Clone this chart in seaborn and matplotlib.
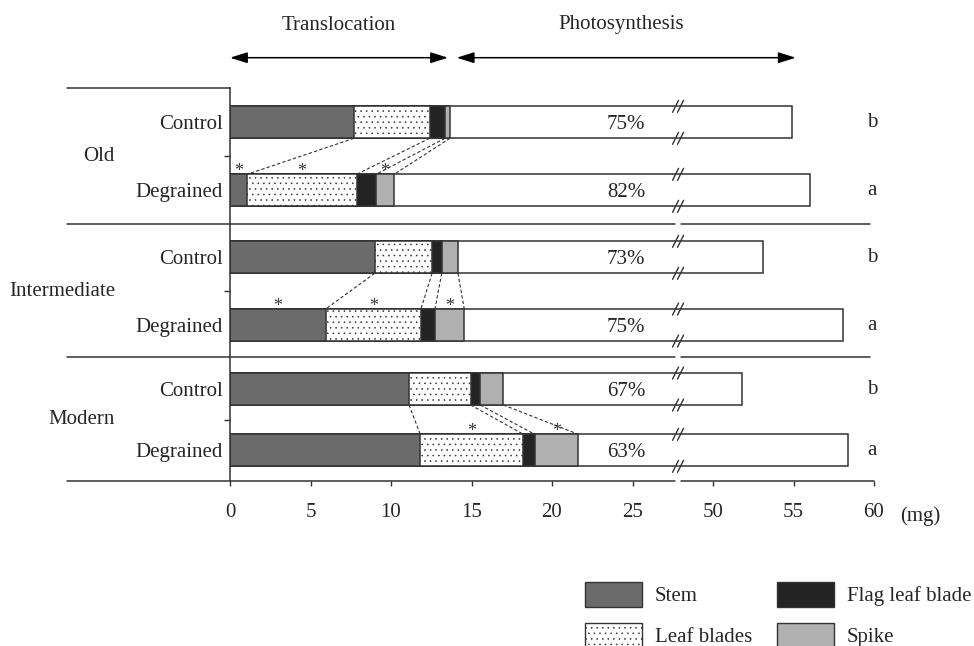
import numpy as np
import pandas as pd
import matplotlib
matplotlib.use("Agg")
import matplotlib.pyplot as plt
import seaborn as sns
from matplotlib.patches import Patch
from matplotlib.transforms import blended_transform_factory

# ---------------- data ----------------
groups = ["Old", "Intermediate", "Modern"]
treatments = ["Control", "Degrained"]
# one entry per bar: Old-Control, Old-Degrained, Int-Control, Int-Degrained, Mod-Control, Mod-Degrained
stem = [7.70, 1.07, 8.99, 5.94, 11.12, 11.82]
leaf_blades = [4.70, 6.80, 3.56, 5.92, 3.83, 6.40]
flag_leaf_blade = [0.95, 1.20, 0.60, 0.87, 0.60, 0.70]
spike = [0.31, 1.13, 1.01, 1.82, 1.43, 2.72]
total = [54.9, 56.0, 53.1, 58.1, 51.8, 58.4]
photo_pct = ["75%", "82%", "73%", "75%", "67%", "63%"]
letters = ["b", "a", "b", "a", "b", "a"]
# significance (*) for degrained vs control, per group (Old, Intermediate, Modern)
sig_stem = [True, True, False]
sig_leaf = [True, True, True]
sig_flag = [False, False, False]
sig_spike = [True, True, True]
tick_values = [0, 5, 10, 15, 20, 25, 50, 55, 60]

# ---------------- layout / style ----------------
W, H = 974, 646
AX_L, AX_R, AX_T, AX_B = 230, 874, 88, 481       # pixel box of axes
ROW_Y = [122.3, 190.3, 257.3, 325.0, 389.0, 450.3]  # row centres (y axis in pixel units)
BAR_H = 32
BREAK_SHIFT = 20      # axis is broken: values above the break are drawn 20 mg to the left
BREAK_X = 27.83
PCT_X = 24.6
PX = 40.0 / (AX_R - AX_L)  # data units per pixel along x

STEM_C = "#6b6b6b"
FLAG_C = "#242424"
SPIKE_C = "#b0b0b0"
EDGE = "#333333"
FS = 15

sns.set_style("white")
plt.rcParams["font.family"] = ["Liberation Serif", "DejaVu Serif"]
plt.rcParams["hatch.color"] = "#333333"
plt.rcParams["hatch.linewidth"] = 0.4

fig = plt.figure(figsize=(W / 100, H / 100), dpi=100)
ax = fig.add_axes([AX_L / W, 1 - AX_B / H, (AX_R - AX_L) / W, (AX_B - AX_T) / H])

stem_a = np.array(stem)
c1 = stem_a
c2 = c1 + np.array(leaf_blades)
c3 = c2 + np.array(flag_leaf_blade)
c4 = c3 + np.array(spike)
tot_plot = np.array(total) - BREAK_SHIFT

native = np.min(np.diff(sorted(ROW_Y)))
layers = [(tot_plot, "white", None), (c4, SPIKE_C, None), (c3, FLAG_C, None),
          (c2, "white", "..."), (c1, STEM_C, None)]
for vals, col, hatch in layers:
    kws = dict(edgecolor=EDGE, linewidth=1.1)
    if hatch:
        kws["hatch"] = hatch
    sns.barplot(x=vals, y=ROW_Y, orient="h", native_scale=True, width=BAR_H / native,
                color=col, saturation=1, errorbar=None, ax=ax, **kws)

ax.set_xlim(0, 40)
ax.set_ylim(AX_B, AX_T)
ax.set_xlabel("")
ax.set_ylabel("")

# dashed connectors between control and degrained bars
bounds = [c1, c2, c3, c4]
for g in range(3):
    ci, di = 2 * g, 2 * g + 1
    for b in bounds:
        ax.plot([b[ci], b[di]], [ROW_Y[ci] + BAR_H / 2, ROW_Y[di] - BAR_H / 2],
                ls=(0, (3, 2)), lw=0.8, color=EDGE, zorder=3)

# asterisks
starts = [np.zeros(6), c1, c2, c3]
ends = [c1, c2, c3, c4]
sigs = [sig_stem, sig_leaf, sig_flag, sig_spike]
for g in range(3):
    di = 2 * g + 1
    for k in range(4):
        if sigs[k][g]:
            xm = (starts[k][di] + ends[k][di]) / 2
            ax.text(xm, ROW_Y[di] - BAR_H / 2 + 2, "*", ha="center", va="baseline",
                    fontsize=13, color="#333333")

# percent labels & letters
for i in range(6):
    ax.text(PCT_X, ROW_Y[i] + 2, photo_pct[i], ha="center", va="center", fontsize=FS)
    ax.text(39.9, ROW_Y[i], letters[i], ha="center", va="center", fontsize=FS, clip_on=False)

# break marks on bars
for i in range(6):
    for yy in (ROW_Y[i] - BAR_H / 2, ROW_Y[i] + BAR_H / 2):
        for off in (-2.5, 2.5):
            ax.plot([BREAK_X + (off - 3) * PX, BREAK_X + (off + 3) * PX], [yy + 6, yy - 6],
                    color=EDGE, lw=1.0, zorder=5, clip_on=False)

# horizontal separators
trans = blended_transform_factory(ax.transAxes, ax.transData)
xl = (67 - AX_L) / (AX_R - AX_L)
xb = (678 - AX_L) / (AX_R - AX_L)
gap = 3 / (AX_R - AX_L)
sep_y = [(ROW_Y[1] + ROW_Y[2]) / 2, (ROW_Y[3] + ROW_Y[4]) / 2]
for yy in sep_y:
    ax.plot([xl, xb - gap], [yy, yy], transform=trans, color=EDGE, lw=1.1, clip_on=False)
    ax.plot([xb + gap, (870 - AX_L) / (AX_R - AX_L)], [yy, yy], transform=trans, color=EDGE,
            lw=1.1, clip_on=False)
ax.plot([xl, 0], [AX_T, AX_T], transform=trans, color=EDGE, lw=1.1, clip_on=False)
ax.plot([xl, xb - gap], [AX_B, AX_B], transform=trans, color=EDGE, lw=1.1, clip_on=False)
ax.plot([xb + gap, 1], [AX_B, AX_B], transform=trans, color=EDGE, lw=1.1, clip_on=False)

# spines & ticks
for s in ["top", "right", "bottom"]:
    ax.spines[s].set_visible(False)
ax.spines["left"].set_color(EDGE)
ax.spines["left"].set_linewidth(1.1)

ax.set_xticks([0, 5, 10, 15, 20, 25, 30, 35, 40])
ax.set_xticklabels([str(v) for v in tick_values], fontsize=FS)
ax.tick_params(axis="x", direction="out", length=3.6, width=1, color=EDGE, pad=12.5, bottom=True)
ax.text(42.9, AX_B + 35, "(mg)", ha="center", va="center", fontsize=FS, clip_on=False)

ax.set_yticks(ROW_Y)
ax.set_yticklabels(treatments * 3, fontsize=FS)
ax.tick_params(axis="y", which="major", length=0, pad=5)
grp_y = [(ROW_Y[2 * g] + ROW_Y[2 * g + 1]) / 2 for g in range(3)]
ax.set_yticks(grp_y, minor=True)
ax.tick_params(axis="y", which="minor", length=4, width=1, color=EDGE, direction="out", left=True)
for g, name in enumerate(groups):
    ax.text((115 - AX_L) / (AX_R - AX_L), grp_y[g], name, transform=trans, ha="right",
            va="center", fontsize=FS)

# top arrows
ar = dict(arrowstyle="<|-|>,head_length=0.7,head_width=0.22", color="black", lw=1.1,
          shrinkA=0, shrinkB=0)
ax.annotate("", xy=(0, 57.7), xytext=((448 - AX_L) * PX, 57.7), arrowprops=ar,
            annotation_clip=False, fontsize=FS)
ax.annotate("", xy=((456.7 - AX_L) * PX, 57.7), xytext=((795.7 - AX_L) * PX, 57.7),
            arrowprops=ar, annotation_clip=False, fontsize=FS)
ax.text((339 - AX_L) * PX, 25, "Translocation", ha="center", va="center", fontsize=FS,
        clip_on=False)
ax.text((620.7 - AX_L) * PX, 25, "Photosynthesis", ha="center", va="center", fontsize=FS,
        clip_on=False)

# legend
handles = [Patch(facecolor=STEM_C, edgecolor=EDGE, label="Stem"),
           Patch(facecolor="white", edgecolor=EDGE, hatch="...", label="Leaf blades"),
           Patch(facecolor=FLAG_C, edgecolor=EDGE, label="Flag leaf blade"),
           Patch(facecolor=SPIKE_C, edgecolor=EDGE, label="Spike")]
fig.legend(handles=handles, ncol=2, loc="upper left", bbox_to_anchor=(585 / W, 1 - 582 / H),
           frameon=False, fontsize=FS, borderpad=0, borderaxespad=0, handlelength=2.74,
           handleheight=1.44, labelspacing=0.77, handletextpad=0.62, columnspacing=1.17)

fig.savefig("out.png", dpi=100)
